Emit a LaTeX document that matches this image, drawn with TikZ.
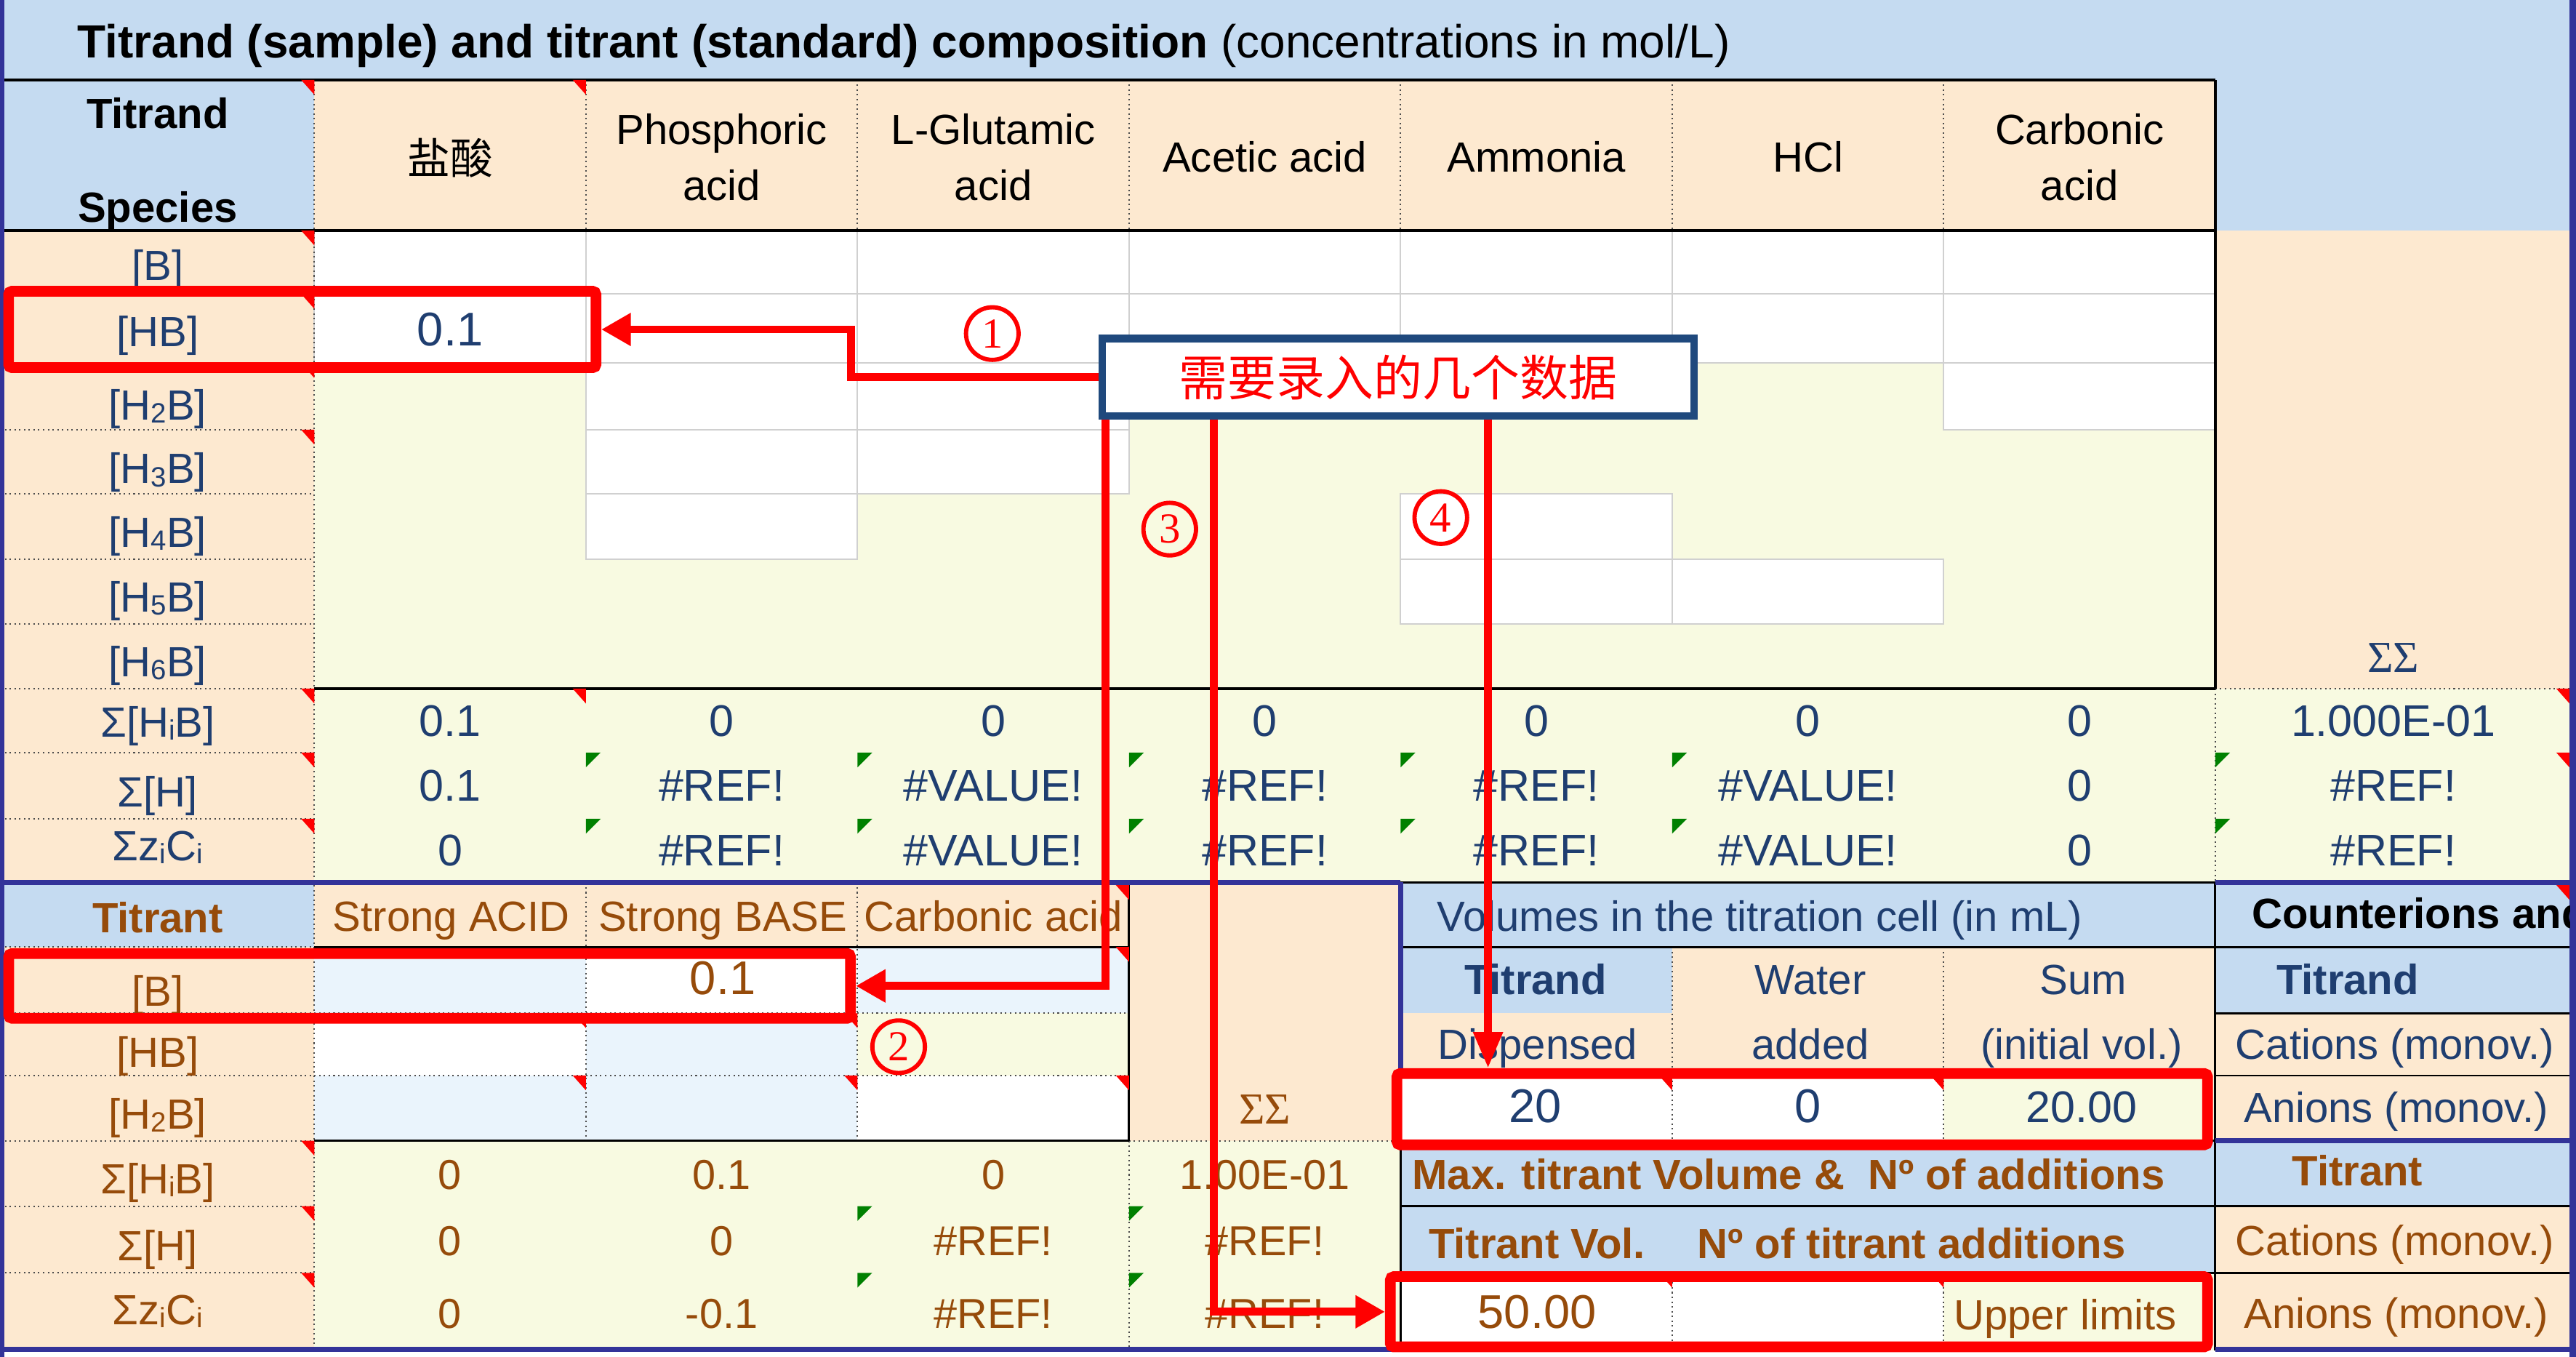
\documentclass[tikz,border=0pt]{standalone}
\usepackage{fontspec}
\setmainfont{Liberation Sans}
\newfontfamily\serifnum{Liberation Serif}
\newfontfamily\cjk{Noto Sans CJK SC}
\usetikzlibrary{arrows.meta}
\definecolor{ltblue}{RGB}{197,219,241}
\definecolor{peach}{RGB}{253,233,208}
\definecolor{ltyel}{RGB}{248,250,225}
\definecolor{ltblueb}{RGB}{234,244,252}
\definecolor{dblue}{RGB}{31,62,112}
\definecolor{xbrown}{RGB}{150,75,10}
\definecolor{purp}{RGB}{51,51,153}
\definecolor{callblue}{RGB}{31,73,125}
\definecolor{gridg}{RGB}{208,208,208}
\definecolor{errgreen}{RGB}{0,128,0}
\definecolor{xred}{RGB}{255,0,0}
\newcommand\fT{\fontsize{28.3}{34}\selectfont}
\newcommand\fH{\fontsize{25.7}{30}\selectfont}
\newcommand\fV{\fontsize{27}{32}\selectfont}
\newcommand\fI{\fontsize{28.8}{34}\selectfont}
\newcommand\fS{\fontsize{25.5}{30}\selectfont}
\newcommand\lowi[1]{\raisebox{-1.8pt}{\fontsize{17}{17}\selectfont #1}}
\newcommand\redmark[2]{\fill[xred] (#1,#2) -- ++(-8,0) -- ++(8,9) -- cycle;}
\newcommand\greenmark[2]{\fill[errgreen] (#1,#2) -- ++(9,0) -- ++(-9,9) -- cycle;}
\begin{document}
\begin{tikzpicture}[x=1pt,y=-1pt,
  txt/.style={inner sep=0pt, anchor=base},
  lab/.style={txt, text=dblue, font=\fH},
  blab/.style={txt, text=xbrown, font=\fH},
  val/.style={txt, text=dblue, font=\fV},
  bval/.style={txt, text=xbrown, font=\fS},
  wcell/.style={fill=white, draw=gridg, line width=1pt},
  blk/.style={draw=black, line width=1.8pt},
  thin/.style={draw=black, line width=1.2pt},
  dots/.style={draw=black!70, line width=0.9pt, dotted},
  purpl/.style={draw=purp, line width=3.2pt},
  redbox/.style={draw=xred, line width=6.5pt, rounded corners=2pt, inner sep=0pt, fill=none},
  redarrow/.style={draw=xred, line width=4.8pt, line join=miter, -{Triangle[length=18pt,width=19pt]}},
  circnum/.style={circle, draw=xred, line width=2.6pt, minimum size=32pt, inner sep=0pt, text=xred, font=\serifnum\fontsize{26}{26}\selectfont},
]
\useasboundingbox (0,0) rectangle (1568,825.8);
\fill[white] (0,0) rectangle (1568,825.8);
% ---------------- backgrounds, upper table
\fill[ltblue] (0,0) rectangle (1568,48.6);
\fill[ltblue] (1348.4,48.6) rectangle (1568,140.3);
\fill[ltblue] (0,48.6) rectangle (191.3,140.3);
\fill[peach] (191.3,48.6) rectangle (1348.4,140.3);
\fill[peach] (0,140.3) rectangle (191.3,537);
\fill[ltyel] (191.3,140.3) rectangle (1348.4,537);
\fill[peach] (1348.4,140.3) rectangle (1568,419.1);
\fill[ltyel] (1348.4,419.1) rectangle (1568,537);
% white input cells
\foreach \i in {0,...,6} {
  \path[wcell] ({191.3+165.3*\i},140.3) rectangle ({191.3+165.3*(\i+1)},178.9);
  \path[wcell] ({191.3+165.3*\i},178.9) rectangle ({191.3+165.3*(\i+1)},221);
}
\path[wcell] (356.6,221) rectangle (521.9,261.5);
\path[wcell] (521.9,221) rectangle (687.2,261.5);
\path[wcell] (1183.1,221) rectangle (1348.4,261.5);
\path[wcell] (356.6,261.5) rectangle (521.9,300.5);
\path[wcell] (521.9,261.5) rectangle (687.2,300.5);
\path[wcell] (356.6,300.5) rectangle (521.9,340.3);
\path[wcell] (852.5,300.5) rectangle (1017.8,340.3);
\path[wcell] (852.5,340.3) rectangle (1017.8,379.7);
\path[wcell] (1017.8,340.3) rectangle (1183.1,379.7);
% ---------------- backgrounds, lower part
\fill[ltblue] (0,537) rectangle (191.3,576.3);
\fill[peach] (191.3,537) rectangle (852.5,576.3);
\fill[peach] (0,576.3) rectangle (191.3,822);
\fill[peach] (687.2,537) rectangle (852.5,694.2);
\fill[ltblueb] (191.3,576.3) rectangle (356.6,616.6);
\fill[white] (356.6,576.3) rectangle (521.9,616.6);
\fill[ltblueb] (521.9,576.3) rectangle (687.2,616.6);
\fill[white] (191.3,616.6) rectangle (356.6,654.5);
\fill[ltblueb] (356.6,616.6) rectangle (521.9,654.5);
\fill[ltyel] (521.9,616.6) rectangle (687.2,654.5);
\fill[ltblueb] (191.3,654.5) rectangle (521.9,694.2);
\fill[white] (521.9,654.5) rectangle (687.2,694.2);
\fill[ltyel] (191.3,694.2) rectangle (852.5,822);
% volumes
\fill[ltblue] (852.5,537) rectangle (1348.4,576.3);
\fill[ltblue] (852.5,576.3) rectangle (1017.8,616.6);
\fill[peach] (852.5,616.6) rectangle (1017.8,654.5);
\fill[peach] (1017.8,576.3) rectangle (1348.4,654.5);
\fill[white] (852.5,654.5) rectangle (1183.1,694.2);
\fill[ltyel] (1183.1,654.5) rectangle (1348.4,694.2);
\fill[ltblue] (852.5,694.2) rectangle (1348.4,774.6);
\fill[white] (852.5,774.6) rectangle (1183.1,822);
\fill[ltyel] (1183.1,774.6) rectangle (1348.4,822);
% counterions
\fill[ltblue] (1348.4,537) rectangle (1568,616.6);
\fill[peach] (1348.4,616.6) rectangle (1568,694.2);
\fill[ltblue] (1348.4,694.2) rectangle (1568,734);
\fill[peach] (1348.4,734) rectangle (1568,822);
% ---------------- rules
\foreach \x in {356.6,521.9,687.2,852.5,1017.8,1183.1} \draw[dots] (\x,48.6) -- (\x,140.3);
\draw[dots] (191.3,48.6) -- (191.3,822);
\foreach \y in {178.9,221,261.5,300.5,340.3,379.7,419.1,458,498.3} \draw[dots] (0,\y) -- (191.3,\y);
\draw[dots] (1348.4,419.1) -- (1568,419.1);
\draw[dots] (1348.4,419.1) -- (1348.4,537);
\draw[blk] (0,48.6) -- (1348.4,48.6);
\draw[blk] (0,140.3) -- (1348.4,140.3);
\draw[blk] (191.3,419.1) -- (1348.4,419.1);
\draw[blk] (1348.4,48.6) -- (1348.4,419.1);
% lower rules
\foreach \y in {576.3,616.6,654.5,694.2,734,774.6} \draw[dots] (0,\y) -- (191.3,\y);
\draw[dots] (191.3,616.6) -- (687.2,616.6);
\draw[dots] (191.3,654.5) -- (687.2,654.5);
\draw[dots] (356.6,537) -- (356.6,694.2);
\draw[dots] (521.9,537) -- (521.9,694.2);
\draw[dots] (687.2,694.2) -- (687.2,822);
\draw[dots] (687.2,694.2) -- (852.5,694.2);
\foreach \x in {1017.8,1183.1} {
  \draw[dots] (\x,576.3) -- (\x,694.2);
  \draw[dots] (\x,774.6) -- (\x,822);
}
\draw[thin] (191.3,576.3) -- (687.2,576.3);
\draw[thin] (191.3,694.2) -- (687.2,694.2);
\draw[thin] (687.2,537) -- (687.2,694.2);
\draw[thin] (852.5,537) -- (1348.4,537);
\draw[thin] (852.5,576.3) -- (1568,576.3);
\draw[thin] (852.5,654.5) -- (852.5,822);
\draw[thin] (852.5,694.2) -- (1348.4,694.2);
\draw[thin] (852.5,734) -- (1568,734);
\draw[thin] (852.5,774.6) -- (1568,774.6);
\draw[thin] (1348.4,537) -- (1348.4,822);
\draw[thin] (1348.4,616.6) -- (1568,616.6);
\draw[thin] (1348.4,654.5) -- (1568,654.5);
% ---------------- comment marks
\redmark{191.3}{48.6}\redmark{356.6}{48.6}
\foreach \y in {140.3,178.9,221,261.5,419.1,458,498.3} {\redmark{191.3}{\y}}
\redmark{356.6}{419.1}\redmark{1564}{419.1}\redmark{1564}{458}
\foreach \y in {458,498.3} {\foreach \x in {356.6,521.9,687.2,852.5,1017.8,1348.4} {\greenmark{\x}{\y}}}
\redmark{687.2}{538.6}\redmark{687.2}{576.3}\redmark{356.6}{616.6}\redmark{521.9}{616.6}
\redmark{356.6}{654.5}\redmark{521.9}{654.5}\redmark{687.2}{654.5}
\foreach \y in {694.2,734,774.6} {\redmark{191.3}{\y}}
\redmark{1017.8}{654.5}\redmark{1183.1}{654.5}\redmark{1017.8}{774.6}\redmark{1183.1}{774.6}\redmark{1564}{538.6}
\foreach \y in {734,774.6} {\foreach \x in {521.9,687.2} {\greenmark{\x}{\y}}}
% purple frame lines
\draw[purpl] (0,537) -- (852.5,537);
\draw[purpl] (1348.4,537) -- (1568,537);
\draw[purpl] (852.5,537) -- (852.5,655);
\draw[purpl] (0,821.2) -- (852.5,821.2);
\draw[purpl] (1348.4,821.2) -- (1568,821.2);
\draw[purpl] (1348.4,694.2) -- (1568,694.2);
\fill[purp] (0,0) rectangle (2.7,825.8);
\fill[purp] (1564,0) rectangle (1568,825.8);
% ---------------- texts, upper table
\node[txt, anchor=base west] (title) at (47,35) {\fT\bfseries Titrand (sample) and titrant (standard) composition \mdseries(concentrations in mol/L)};
\node[txt, font=\fH\bfseries] (hTitrand) at (96,78) {Titrand};
\node[txt, font=\fH\bfseries] (hSpecies) at (96,135) {Species};
\node[inner sep=0pt] (hYansuan) at (274,96) {\cjk\fontsize{26}{26}\selectfont 盐酸};
\node[txt, font=\fH] (hPhos1) at (439.3,88) {Phosphoric};
\node[txt, font=\fH] (hPhos2) at (439.3,122) {acid};
\node[txt, font=\fH] (hGlu1) at (604.6,88) {L-Glutamic};
\node[txt, font=\fH] (hGlu2) at (604.6,122) {acid};
\node[txt, font=\fH] (hAce) at (769.9,104.6) {Acetic acid};
\node[txt, font=\fH] (hAmm) at (935.2,104.6) {Ammonia};
\node[txt, font=\fH] (hHCl) at (1100.5,104.6) {HCl};
\node[txt, font=\fH] (hCarb1) at (1265.8,88) {Carbonic};
\node[txt, font=\fH] (hCarb2) at (1265.8,122) {acid};
\node[lab] (lB) at (96,170.5) {[B]};
\node[lab] (lHB) at (96,211) {[HB]};
\node[lab] (lH2B) at (96,255.5) {[H\lowi{2}B]};
\node[lab] (lH3B) at (96,294.3) {[H\lowi{3}B]};
\node[lab] (lH4B) at (96,333) {[H\lowi{4}B]};
\node[lab] (lH5B) at (96,372.3) {[H\lowi{5}B]};
\node[lab] (lH6B) at (96,411.7) {[H\lowi{6}B]};
\node[lab] (lS1) at (96,448.4) {Σ[H\lowi{i}B]};
\node[lab] (lS2) at (96,491.2) {Σ[H]};
\node[lab] (lS3) at (96,523.6) {Σz\lowi{i}C\lowi{i}};
\node[txt, text=dblue, font=\fI] (inHB) at (274,210.6) {0.1};
\node[txt, text=dblue, font=\serifnum\fontsize{27}{27}\selectfont] (sigsigA) at (1456.8,409) {ΣΣ};
\foreach \v [count=\i] in {0.1,0,0,0,0,0,0}
  \node[val] (sa\i) at ({191.3+165.3*(\i-1)+82.65},448.3) {\v};
\foreach \v [count=\i] in {0.1,\#REF!,\#VALUE!,\#REF!,\#REF!,\#VALUE!,0}
  \node[val] (sb\i) at ({191.3+165.3*(\i-1)+82.65},487.7) {\v};
\foreach \v [count=\i] in {0,\#REF!,\#VALUE!,\#REF!,\#REF!,\#VALUE!,0}
  \node[val] (sc\i) at ({191.3+165.3*(\i-1)+82.65},527) {\v};
\node[val] (sa8) at (1456.8,448.3) {1.000E-01};
\node[val] (sb8) at (1456.8,487.7) {\#REF!};
\node[val] (sc8) at (1456.8,527) {\#REF!};
% ---------------- texts, titrant block
\node[txt, text=xbrown, font=\fH\bfseries] (tTitrant) at (96,567.7) {Titrant};
\node[blab] (tAcid) at (274.8,566.8) {Strong ACID};
\node[blab] (tBase) at (440,566.8) {Strong BASE};
\begin{scope}
\clip (521.9,537) rectangle (684,576.3);
\node[blab] (tCarb) at (604.6,566.8) {Carbonic acid};
\end{scope}
\node[blab] (tlB) at (96,612.2) {[B]};
\node[blab] (tlHB) at (96,649.5) {[HB]};
\node[blab] (tlH2B) at (96,687.1) {[H\lowi{2}B]};
\node[blab] (tlS1) at (96,726.6) {Σ[H\lowi{i}B]};
\node[blab] (tlS2) at (96,767) {Σ[H]};
\node[blab] (tlS3) at (96,806) {Σz\lowi{i}C\lowi{i}};
\node[txt, text=xbrown, font=\fI] (inB) at (440,605.3) {0.1};
\node[txt, text=xbrown, font=\serifnum\fontsize{27}{27}\selectfont] (sigsigB) at (769.9,684) {ΣΣ};
\foreach \v [count=\i] in {0,0.1,0,1.00E-01}
  \node[bval] (ta\i) at ({191.3+165.3*(\i-1)+82.65},723.8) {\v};
\foreach \v [count=\i] in {0,0,\#REF!,\#REF!}
  \node[bval] (tb\i) at ({191.3+165.3*(\i-1)+82.65},764.2) {\v};
\foreach \v [count=\i] in {0,-0.1,\#REF!,\#REF!}
  \node[bval] (tc\i) at ({191.3+165.3*(\i-1)+82.65},808.4) {\v};
% ---------------- volumes
\node[txt, anchor=base west, text=dblue, font=\fH] (vHead) at (874.6,566.8) {Volumes in the titration cell (in mL)};
\node[txt, text=dblue, font=\fH\bfseries] (vTitrand) at (934.7,605.3) {Titrand};
\node[lab] (vWater) at (1102,605.3) {Water};
\node[lab] (vSum) at (1268,605.3) {Sum};
\node[lab] (vDisp) at (936,644.8) {Dispensed};
\node[lab] (vAdded) at (1102,644.8) {added};
\node[lab] (vInit) at (1267,644.8) {(initial vol.)};
\node[txt, text=dblue, font=\fI] (v20) at (934.6,683.3) {20};
\node[txt, text=dblue, font=\fI] (v0) at (1100.5,683.3) {0};
\node[txt, text=dblue, font=\fV] (v2000) at (1267,683.3) {20.00};
\node[txt, anchor=base west, text=xbrown, font=\fH\bfseries] (vMax) at (859.4,723.8) {Max. titrant Volume \&\ \ Nº of additions};
\node[txt, text=xbrown, font=\fH\bfseries] (vTV) at (935.6,766) {Titrant Vol.};
\node[txt, anchor=base east, text=xbrown, font=\fH\bfseries] (vNo) at (1294,766) {Nº of titrant additions};
\node[txt, text=xbrown, font=\fI] (v50) at (935.6,808.4) {50.00};
\node[txt, anchor=base west, text=xbrown, font=\fH] (vUpper) at (1189,809) {Upper limits};
% ---------------- counterions
\begin{scope}
\clip (1348.4,537) rectangle (1564,576.3);
\node[txt, anchor=base west, font=\fH\bfseries] (cHead) at (1370.5,565) {Counterions and};
\end{scope}
\node[txt, text=dblue, font=\fH\bfseries] (cTitrand) at (1429,605) {Titrand};
\node[lab] (cCat1) at (1457.7,644.8) {Cations (monov.)};
\node[lab] (cAn1) at (1458.5,683.3) {Anions (monov.)};
\node[txt, text=xbrown, font=\fH\bfseries] (cTitrant) at (1435,721.6) {Titrant};
\node[blab] (cCat2) at (1457.7,764.2) {Cations (monov.)};
\node[blab] (cAn2) at (1458.5,808.4) {Anions (monov.)};
% ---------------- annotations
\node[redbox, minimum width=357.5pt, minimum height=46.5pt] (box1) at (184,200.5) {};
\node[redbox, minimum width=512.4pt, minimum height=39.4pt] (box2) at (261.5,600) {};
\node[redbox, minimum width=493.4pt, minimum height=43.4pt] (box3) at (1097,675) {};
\node[redbox, minimum width=497.4pt, minimum height=42.7pt] (box4) at (1095,798.3) {};
\node[draw=callblue, line width=4.5pt, fill=white, minimum width=360pt, minimum height=47pt, inner sep=0pt] (call) at (851,229.5) {\cjk\fontsize{29.6}{30}\selectfont\color{xred}需要录入的几个数据};
\coordinate (k1) at (518,229.5);
\coordinate (k1b) at (518,200.5);
\coordinate (s2) at ([xshift=4pt]call.south west);
\coordinate (s3) at ([xshift=70pt]call.south west);
\coordinate (s4) at ([xshift=237pt]call.south west);
\draw[redarrow] (call.west) -- (k1) -- (k1b) -- (box1.east);
\draw[redarrow] (s2) -- (s2 |- box2.east) -- (box2.east);
\draw[redarrow] (s3) -- (s3 |- box4.west) -- (box4.west);
\draw[redarrow, -{Triangle[length=22pt,width=17pt]}] (s4) -- (s4 |- box3.north);
\node[circnum] (n1) at (604,203) {1};
\node[circnum] (n2) at (547,637) {2};
\node[circnum] (n3) at (712,322) {3};
\node[circnum] (n4) at (877,315) {4};
\end{tikzpicture}
\end{document}
